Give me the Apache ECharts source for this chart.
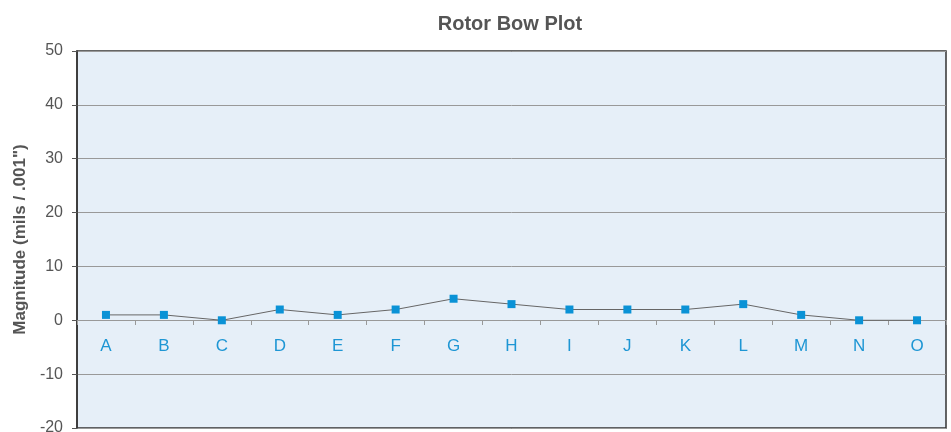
<!DOCTYPE html>
<html>
<head>
<meta charset="utf-8">
<script src="https://cdn.jsdelivr.net/npm/echarts@6/dist/echarts.min.js"></script>
<style>html,body{margin:0;padding:0;background:#fff}#c{width:951px;height:432px}</style>
</head>
<body>
<div id="c"></div>
<script>
var categories = ['A','B','C','D','E','F','G','H','I','J','K','L','M','N','O'];
var magnitude = [1,1,0,2,1,2,4,3,2,2,2,3,1,0,0];
var yTicks = {min: -20, max: 50, interval: 10};

var chart = echarts.init(document.getElementById('c'));
chart.setOption({
  animation: false,
  title: {
    text: 'Rotor Bow Plot', left: 505, top: 9, textAlign: 'center',
    textStyle: {fontFamily: 'Liberation Sans', fontSize: 20, fontWeight: 'bold', color: '#555'}
  },
  grid: {
    left: 77, right: 5, top: 51, bottom: 4, show: true,
    containLabel: false, outerBoundsMode: 'none',
    backgroundColor: '#E6EFF8', borderColor: '#333', borderWidth: 1.5
  },
  xAxis: {
    type: 'category', data: categories, boundaryGap: true,
    position: 'bottom', offset: -108,
    axisLine: {onZero: false, lineStyle: {color: '#999', width: 1}},
    axisTick: {show: true, length: 5, lineStyle: {color: '#999'}},
    axisLabel: {margin: 18, color: '#1E96D4', fontSize: 17, fontFamily: 'Liberation Sans'},
    splitLine: {show: false}
  },
  yAxis: {
    type: 'value', min: yTicks.min, max: yTicks.max, interval: yTicks.interval,
    name: 'Magnitude (mils / .001")', nameLocation: 'middle', nameGap: 38,
    nameTextStyle: {fontFamily: 'Liberation Sans', fontSize: 17, fontWeight: 'bold', color: '#555'},
    axisLine: {show: true, lineStyle: {color: '#333', width: 1.5}},
    axisTick: {show: true, length: 5, lineStyle: {color: '#555'}},
    axisLabel: {margin: 14, color: '#555', fontSize: 16, fontFamily: 'Liberation Sans'},
    splitLine: {show: true, lineStyle: {color: '#999', width: 1}}
  },
  series: [{
    type: 'line', data: magnitude,
    symbol: 'rect', symbolSize: 8,
    itemStyle: {color: '#0A92D6'},
    lineStyle: {color: '#666', width: 1}
  }]
});
</script>
</body>
</html>
